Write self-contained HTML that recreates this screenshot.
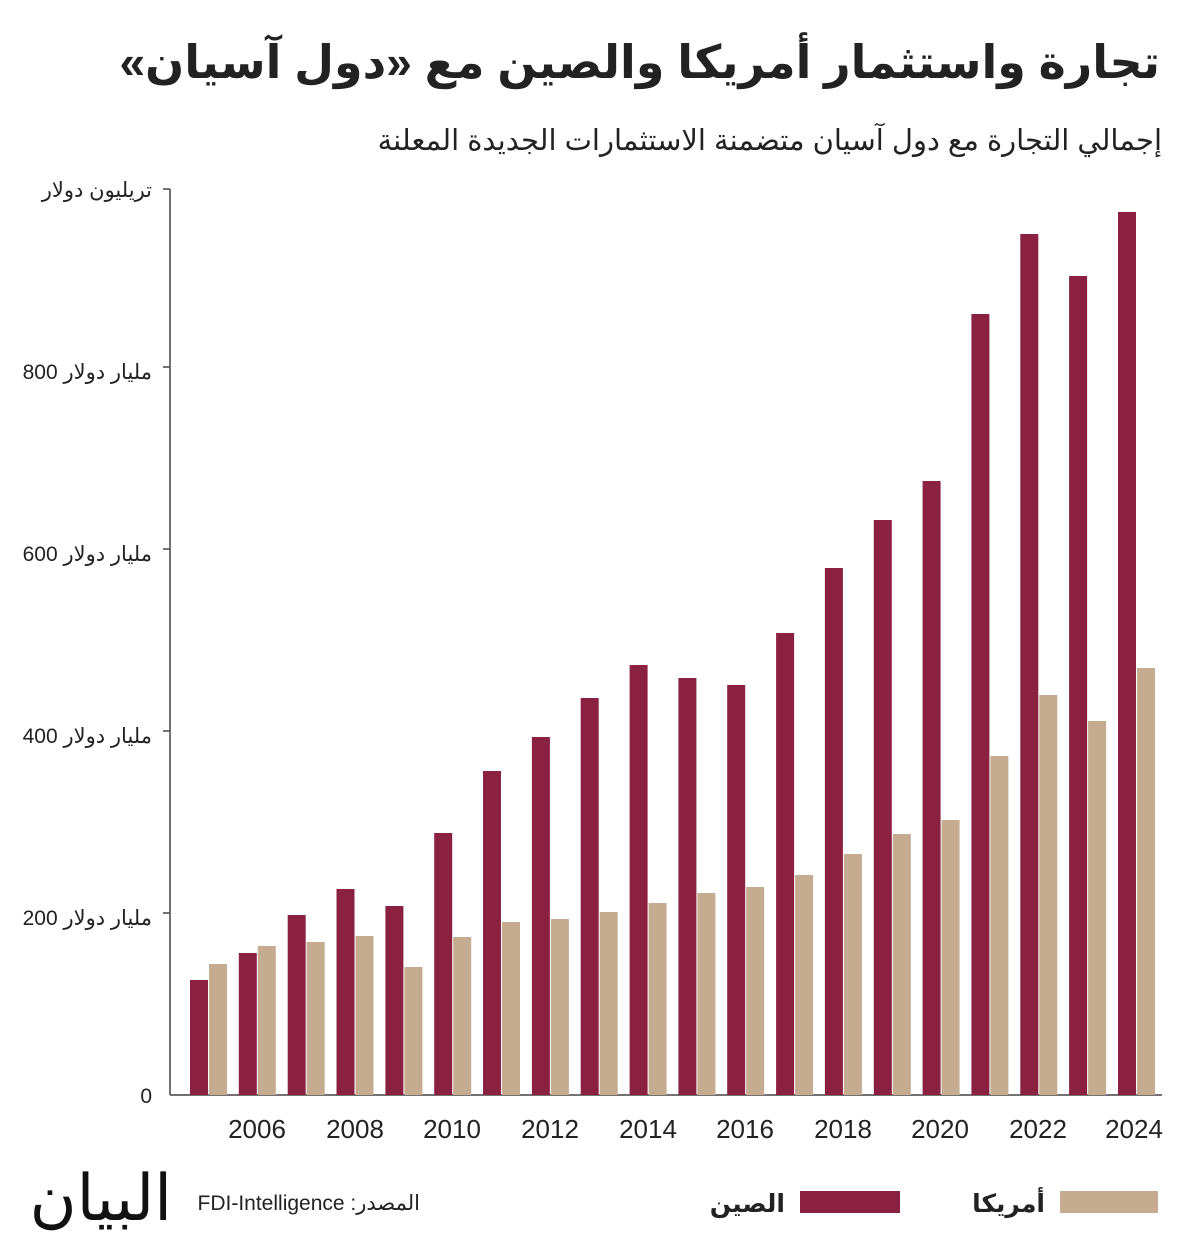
<!DOCTYPE html>
<html><head><meta charset="utf-8"><style>
body{margin:0;background:#fff;width:1200px;height:1242px;overflow:hidden;font-family:"Liberation Sans","Noto Sans CJK SC",sans-serif}
</style></head><body>
<svg width="1200" height="1242" xmlns="http://www.w3.org/2000/svg" font-family="Liberation Sans, Noto Sans CJK SC, DejaVu Sans, sans-serif">
<text x="1160" y="78" text-anchor="end" font-size="46" font-weight="bold" fill="#222">&#x202B;تجارة واستثمار أمريكا والصين مع «دول آسيان»&#x202C;</text>
<text x="1162" y="150" text-anchor="end" font-size="29" fill="#222">إجمالي التجارة مع دول آسيان متضمنة الاستثمارات الجديدة المعلنة</text>
<g font-size="21" fill="#222" text-anchor="end">
<text x="152" y="197">تريليون دولار</text>
<text x="152" y="379">800 مليار دولار</text>
<text x="152" y="561">600 مليار دولار</text>
<text x="152" y="743">400 مليار دولار</text>
<text x="152" y="925">200 مليار دولار</text>
<text x="152" y="1103">0</text>
</g>
<g stroke="#444" stroke-width="1.5">
<line x1="170" y1="189" x2="170" y2="1095"/>
<line x1="170" y1="1095" x2="1162" y2="1095"/>
<line x1="163" y1="189" x2="170" y2="189"/>
<line x1="163" y1="367" x2="170" y2="367"/>
<line x1="163" y1="549" x2="170" y2="549"/>
<line x1="163" y1="731" x2="170" y2="731"/>
<line x1="163" y1="913" x2="170" y2="913"/>
</g>
<g fill="#8b2141">
<rect x="190" y="980" width="18" height="115"/>
<rect x="238.8" y="953" width="18" height="142"/>
<rect x="287.7" y="915" width="18" height="180"/>
<rect x="336.5" y="889" width="18" height="206"/>
<rect x="385.4" y="906" width="18" height="189"/>
<rect x="434.2" y="833" width="18" height="262"/>
<rect x="483" y="771" width="18" height="324"/>
<rect x="531.9" y="737" width="18" height="358"/>
<rect x="580.7" y="698" width="18" height="397"/>
<rect x="629.6" y="665" width="18" height="430"/>
<rect x="678.4" y="678" width="18" height="417"/>
<rect x="727.2" y="685" width="18" height="410"/>
<rect x="776.1" y="633" width="18" height="462"/>
<rect x="824.9" y="568" width="18" height="527"/>
<rect x="873.8" y="520" width="18" height="575"/>
<rect x="922.6" y="481" width="18" height="614"/>
<rect x="971.4" y="314" width="18" height="781"/>
<rect x="1020.3" y="234" width="18" height="861"/>
<rect x="1069.1" y="276" width="18" height="819"/>
<rect x="1118" y="212" width="18" height="883"/>
</g>
<g fill="#c5ab8f">
<rect x="209" y="964" width="18" height="131"/>
<rect x="257.8" y="946" width="18" height="149"/>
<rect x="306.7" y="942" width="18" height="153"/>
<rect x="355.5" y="936" width="18" height="159"/>
<rect x="404.4" y="967" width="18" height="128"/>
<rect x="453.2" y="937" width="18" height="158"/>
<rect x="502" y="922" width="18" height="173"/>
<rect x="550.9" y="919" width="18" height="176"/>
<rect x="599.7" y="912" width="18" height="183"/>
<rect x="648.6" y="903" width="18" height="192"/>
<rect x="697.4" y="893" width="18" height="202"/>
<rect x="746.2" y="887" width="18" height="208"/>
<rect x="795.1" y="875" width="18" height="220"/>
<rect x="843.9" y="854" width="18" height="241"/>
<rect x="892.8" y="834" width="18" height="261"/>
<rect x="941.6" y="820" width="18" height="275"/>
<rect x="990.4" y="756" width="18" height="339"/>
<rect x="1039.3" y="695" width="18" height="400"/>
<rect x="1088.1" y="721" width="18" height="374"/>
<rect x="1137" y="668" width="18" height="427"/>
</g>
<g font-size="26" fill="#222" text-anchor="middle">
<text x="257" y="1138">2006</text>
<text x="355" y="1138">2008</text>
<text x="452" y="1138">2010</text>
<text x="550" y="1138">2012</text>
<text x="648" y="1138">2014</text>
<text x="745" y="1138">2016</text>
<text x="843" y="1138">2018</text>
<text x="940" y="1138">2020</text>
<text x="1038" y="1138">2022</text>
<text x="1134" y="1138">2024</text>
</g>
<rect x="1060" y="1191" width="98" height="22" fill="#c5ab8f"/>
<text x="1045" y="1212" text-anchor="end" font-size="25" font-weight="bold" fill="#222">أمريكا</text>
<rect x="800" y="1191" width="100" height="22" fill="#8b2141"/>
<text x="785" y="1212" text-anchor="end" font-size="25" font-weight="bold" fill="#222">الصين</text>
<text x="420" y="1210" text-anchor="end" font-size="21" fill="#222">FDI-Intelligence :المصدر</text>
<text x="172" y="1220" text-anchor="end" font-size="64" font-family="Liberation Serif, DejaVu Serif, serif" fill="#111">البيان</text>
</svg>
</body></html>
